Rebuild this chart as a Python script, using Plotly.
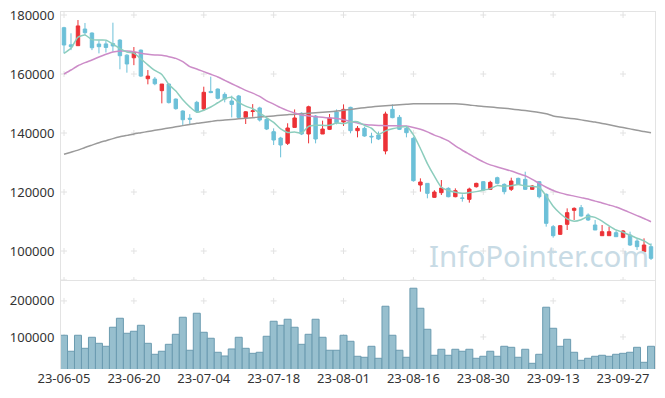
import plotly.graph_objects as go

# ---------------- data ----------------
dates = [
    "23-06-05", "23-06-07", "23-06-08", "23-06-09", "23-06-12", "23-06-13", "23-06-14", "23-06-15", "23-06-16", "23-06-19",
    "23-06-20", "23-06-21", "23-06-22", "23-06-23", "23-06-26", "23-06-27", "23-06-28", "23-06-29", "23-06-30", "23-07-03",
    "23-07-04", "23-07-05", "23-07-06", "23-07-07", "23-07-10", "23-07-11", "23-07-12", "23-07-13", "23-07-14", "23-07-17",
    "23-07-18", "23-07-19", "23-07-20", "23-07-21", "23-07-24", "23-07-25", "23-07-26", "23-07-27", "23-07-28", "23-07-31",
    "23-08-01", "23-08-02", "23-08-03", "23-08-04", "23-08-07", "23-08-08", "23-08-09", "23-08-10", "23-08-11", "23-08-14",
    "23-08-16", "23-08-17", "23-08-18", "23-08-21", "23-08-22", "23-08-23", "23-08-24", "23-08-25", "23-08-28", "23-08-29",
    "23-08-30", "23-08-31", "23-09-01", "23-09-04", "23-09-05", "23-09-06", "23-09-07", "23-09-08", "23-09-11", "23-09-12",
    "23-09-13", "23-09-14", "23-09-15", "23-09-18", "23-09-19", "23-09-20", "23-09-21", "23-09-22", "23-09-25", "23-09-26",
    "23-09-27", "23-10-04", "23-10-05", "23-10-06", "23-10-10",
]

open_p = [
    175700, 169900, 169600, 175250, 173900, 170170, 170200, 170300, 171500, 166400,
    165500, 168100, 158400, 158300, 154350, 156600, 151500, 147450, 145000, 150400,
    148150, 154100, 154900, 153100, 150850, 152550, 145300, 147300, 148500, 144630,
    140450, 138300, 136500, 141900, 146700, 139660, 145760, 139660, 141240, 147120,
    143730, 148700, 140790, 141580, 138900, 139320, 133900, 148020, 145310, 141580,
    138190, 122370, 122930, 118190, 119770, 121240, 118410, 118000, 117510, 121800,
    123500, 120900, 124850, 122600, 120900, 124630, 124290, 120900, 123500, 119210,
    108250, 105650, 109040, 113780, 114690, 112200, 108810, 105190, 105190, 106210,
    104630, 105420, 103390, 99770, 101470,
]
high_p = [
    176000, 173800, 178300, 177300, 174100, 171400, 171400, 177400, 171800, 166700,
    169150, 168300, 161350, 159000, 156600, 156800, 151700, 147700, 146400, 150900,
    155700, 159100, 155100, 153800, 152650, 152900, 147450, 149800, 148900, 145000,
    141580, 138700, 143300, 148000, 147000, 149260, 146100, 144180, 146440, 148000,
    149700, 148900, 142370, 142150, 140100, 140500, 147230, 149700, 146100, 142150,
    138750, 124630, 122930, 120600, 124060, 121600, 121240, 119210, 121470, 123150,
    123700, 123800, 125200, 122930, 124850, 124850, 126890, 122370, 123720, 119540,
    108810, 108810, 114460, 114800, 115600, 112760, 110500, 108810, 108250, 106780,
    107120, 106550, 104060, 104290, 102600,
]
low_p = [
    167000, 168100, 169600, 173200, 168100, 167000, 167300, 167600, 161600, 160450,
    163000, 159000, 156500, 156200, 150050, 150000, 147900, 142700, 142700, 146900,
    147450, 153500, 151400, 150400, 145300, 145000, 143050, 145500, 143900, 141000,
    135930, 131750, 135930, 141900, 139300, 136500, 136500, 139660, 141000, 142940,
    142370, 139900, 138530, 138750, 136500, 137600, 132770, 145000, 141000, 138530,
    123500, 120110, 117860, 118000, 118980, 118200, 118200, 116720, 116380, 121500,
    120340, 120680, 122600, 119210, 120340, 122370, 120680, 120680, 117850, 108250,
    104520, 105420, 107120, 110500, 111630, 110200, 107120, 105190, 105190, 104850,
    104300, 101700, 100330, 99550, 96950,
]
close_p = [
    169830, 169260, 176300, 174000, 168900, 169260, 169000, 169500, 166200, 163400,
    167300, 159300, 159300, 156700, 156600, 150300, 148250, 144500, 144700, 147350,
    153800, 153700, 151750, 151500, 149700, 145300, 147200, 147500, 144400, 141350,
    137630, 135930, 141700, 145100, 139660, 148900, 137960, 141350, 145100, 143500,
    148020, 140790, 141580, 138980, 138700, 137960, 146440, 145200, 141240, 140100,
    123840, 123390, 119540, 119990, 121350, 118400, 120450, 117850, 121010, 122930,
    120680, 123270, 122930, 120110, 123720, 122600, 120900, 122030, 118410, 109380,
    105190, 108590, 113000, 114460, 111860, 110500, 107120, 106550, 106550, 104850,
    106780, 102030, 101470, 102030, 97510,
]
volume = [
    104700, 60300, 104700, 68500, 99100, 82400, 74100, 126900, 151900, 110200,
    115800, 132400, 82400, 51900, 60300, 79600, 107400, 154700, 63100, 165800,
    113000, 96400, 57500, 47200, 66700, 99100, 68500, 54600, 57500, 101900,
    143600, 132400, 149100, 126900, 79600, 107400, 149100, 99100, 63100, 63100,
    104700, 88000, 46400, 43600, 74100, 40800, 185200, 104700, 63100, 43600,
    235200, 179600, 121300, 49200, 65800, 49200, 65800, 60300, 65800, 40800,
    46400, 60300, 46400, 74100, 71300, 43600, 65800, 26900, 51900, 182500,
    124100, 74100, 93500, 57500, 35200, 40800, 46400, 49200, 46400, 51900,
    54600, 57500, 71300, 29700, 74100,
]
# first four 5-day averages (earlier closes are off-chart)
ma5_head = [167000, 168700, 172500, 173200]
ma20 = [
    160000, 161350, 162800, 163840, 164750, 165760, 166670, 167460, 167800, 167800,
    167570, 167000, 166670, 166440, 166330, 165880, 165300, 164180, 162500, 161700,
    160800, 159900, 159000, 157850, 156700, 155600, 154460, 153500, 152400, 150900,
    149800, 148600, 147600, 146800, 146100, 145800, 145550, 145300, 145100, 144900,
    144500, 143900, 143400, 142900, 142700, 142550, 142480, 142450, 142400, 142350,
    141900, 141300, 140400, 139300, 138400, 137300, 135600, 134150, 132800, 131450,
    130200, 129200, 128500, 127800, 127100, 126300, 125500, 124300, 122900, 121600,
    120500, 119700, 119100, 118600, 118100, 117600, 116900, 116300, 115600, 114900,
    114000, 113000, 112000, 111000, 109900,
]
ma60 = [
    132800, 133500, 134200, 135100, 135900, 136700, 137400, 138100, 138700, 139200,
    139700, 140100, 140500, 140900, 141300, 141700, 142100, 142500, 142900, 143300,
    143600, 143900, 144200, 144400, 144600, 144800, 145000, 145200, 145400, 145600,
    145800, 146000, 146200, 146400, 146500, 146700, 146850, 147000, 147200, 147450,
    147700, 148000, 148300, 148600, 148850, 149050, 149200, 149400, 149600, 149750,
    149900, 149950, 149950, 149950, 149950, 149950, 149900, 149750, 149500, 149200,
    149000, 148800, 148600, 148400, 148150, 147850, 147600, 147300, 146950, 146500,
    145800, 145400, 145100, 144800, 144450, 144050, 143700, 143250, 142800, 142300,
    141850, 141400, 140900, 140500, 140100,
]
price_ticks = [100000, 120000, 140000, 160000, 180000]
volume_ticks = [100000, 200000]
date_ticks = dates[::10]

# 5-day moving average from closes
ma5 = list(ma5_head) + [sum(close_p[i - 4:i + 1]) / 5 for i in range(4, len(close_p))]

# ---------------- style ----------------
RED = "#ec3237"
BLUE = "#6cc0d8"
GRID = "#e2e2e2"
AXIS = "#e3e3e3"
FONT = "Noto Sans"
PRICE_RANGE = [90170, 181020]
VOL_RANGE = [11100, 258000]
X_RANGE = [-0.43, len(dates) - 0.43]

fig = go.Figure()

fig.add_trace(go.Scatter(
    x=dates, y=ma60, mode="lines", xaxis="x", yaxis="y", hoverinfo="skip",
    line=dict(color="#9a9a9a", width=1.5, shape="spline", smoothing=0.6),
))
fig.add_trace(go.Scatter(
    x=dates, y=ma20, mode="lines", xaxis="x", yaxis="y", hoverinfo="skip",
    line=dict(color="#cc8cc8", width=1.5, shape="spline", smoothing=0.6),
))
fig.add_trace(go.Scatter(
    x=dates, y=ma5, mode="lines", xaxis="x", yaxis="y", hoverinfo="skip",
    line=dict(color="#8ccdbd", width=1.5, shape="spline", smoothing=0.6),
))

fig.add_trace(go.Candlestick(
    x=dates, open=open_p, high=high_p, low=low_p, close=close_p,
    xaxis="x", yaxis="y", whiskerwidth=0,
    increasing=dict(line=dict(color=RED, width=1), fillcolor=RED),
    decreasing=dict(line=dict(color=BLUE, width=1), fillcolor=BLUE),
))

fig.add_trace(go.Bar(
    x=dates, y=volume, xaxis="x2", yaxis="y2",
    marker=dict(color="#97bfce", line=dict(color="#6b9bb0", width=1)),
))

# "+" grid marks at tick crossings, as shapes beneath the data
shapes = []
def add_plus(xref, yref, xv, yv):
    common = dict(type="line", xref=xref, yref=yref, layer="below",
                  xsizemode="pixel", ysizemode="pixel", xanchor=xv, yanchor=yv,
                  line=dict(color=GRID, width=1))
    shapes.append(dict(common, x0=-3, x1=3, y0=0, y1=0))
    shapes.append(dict(common, x0=0, x1=0, y0=-3, y1=3))

for d in date_ticks:
    for v in price_ticks + [PRICE_RANGE[0]]:
        add_plus("x", "y", d, v)
    for v in volume_ticks:
        add_plus("x2", "y2", d, v)

split = 89 / 357.0

fig.update_layout(
    width=665, height=398, autosize=False,
    margin=dict(l=61, r=10, t=12, b=29, pad=0, autoexpand=False),
    paper_bgcolor="white", plot_bgcolor="white",
    showlegend=False, bargap=0, hovermode=False,
    font=dict(family=FONT, size=13, color="#333333"),
    shapes=shapes,
    xaxis=dict(
        type="category", categoryorder="array", categoryarray=dates,
        domain=[0, 1], anchor="y", range=X_RANGE, automargin=False,
        showticklabels=False, showgrid=False, zeroline=False,
        showline=True, mirror=True, linecolor=AXIS, linewidth=1,
        rangeslider=dict(visible=False), ticks="",
    ),
    yaxis=dict(
        domain=[split, 1], anchor="x", range=PRICE_RANGE, automargin=False,
        tickvals=price_ticks, ticktext=[str(v) for v in price_ticks],
        showgrid=False, zeroline=False, ticklabelstandoff=3,
        ticklabeloverflow="allow",
        showline=True, mirror=True, linecolor=AXIS, linewidth=1, ticks="",
    ),
    xaxis2=dict(
        type="category", categoryorder="array", categoryarray=dates,
        domain=[0, 1], anchor="y2", range=X_RANGE, matches="x", automargin=False,
        tickvals=date_ticks, ticktext=date_ticks, tickangle=0,
        ticklabeloverflow="allow",
        showgrid=False, zeroline=False, showline=False, ticks="",
        tickfont=dict(size=13, color="#333333"),
    ),
    yaxis2=dict(
        domain=[0, split], anchor="x2", range=VOL_RANGE, automargin=False,
        tickvals=volume_ticks, ticktext=[str(v) for v in volume_ticks],
        showgrid=False, zeroline=False, ticklabelstandoff=3,
        ticklabeloverflow="allow",
        showline=True, mirror=True, linecolor=AXIS, linewidth=1, ticks="",
    ),
    annotations=[dict(
        text="InfoPointer.com", xref="paper", yref="paper",
        x=0.804, y=0.318, xanchor="center", yanchor="middle", showarrow=False,
        font=dict(family=FONT, size=29.5, color="#c8dbe5"),
    )],
)

# remove the browser's default 8px body margin so the 665x398 figure fills the window
fig.write_html(
    "out.html",
    config={"displayModeBar": False, "staticPlot": True},
    post_script="document.body.style.margin='0';",
)
